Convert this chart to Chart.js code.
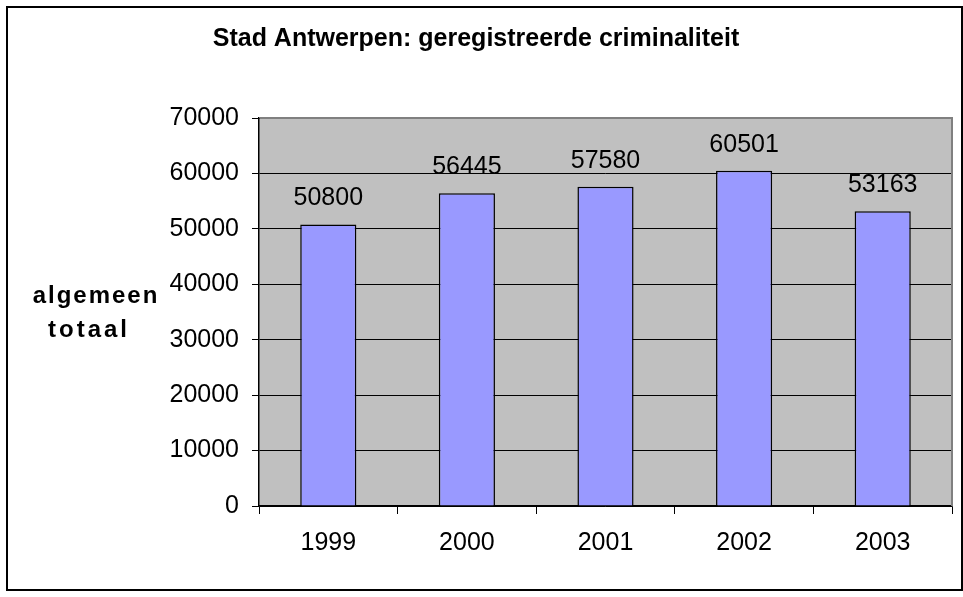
<!DOCTYPE html>
<html>
<head>
<meta charset="utf-8">
<script src="https://cdn.jsdelivr.net/npm/chart.js@4.4.1/dist/chart.umd.min.js"></script>
<style>
  html, body { margin: 0; padding: 0; background: #ffffff; }
  #wrap { position: absolute; left: 0; top: 0; width: 963px; height: 597px; }
</style>
</head>
<body>
<div id="wrap"><canvas id="c" width="963" height="597"></canvas></div>
<script>
const years = ['1999', '2000', '2001', '2002', '2003'];
const totals = [50800, 56445, 57580, 60501, 53163];
const yTicks = [0, 10000, 20000, 30000, 40000, 50000, 60000, 70000];
const titleText = 'Stad Antwerpen: geregistreerde criminaliteit';
const yTitleLines = ['algemeen', 'totaal'];

const FONT = '"Liberation Sans", Arial, sans-serif';

const framePlugin = {
  id: 'frame',
  beforeDraw(chart) {
    const { ctx, chartArea: a } = chart;
    ctx.save();
    ctx.fillStyle = '#ffffff';
    ctx.fillRect(0, 0, chart.width, chart.height);
    ctx.fillStyle = '#C0C0C0';
    ctx.fillRect(a.left, a.top, a.right - a.left, a.bottom - a.top);
    ctx.strokeStyle = '#000000';
    ctx.lineWidth = 2;
    ctx.strokeRect(7, 7, 955, 583);
    ctx.restore();
  },
  afterDraw(chart) {
    const { ctx, chartArea: a } = chart;
    ctx.save();
    ctx.strokeStyle = '#808080';
    ctx.lineWidth = 2;
    ctx.beginPath();
    ctx.moveTo(a.left + 1, a.top);
    ctx.lineTo(a.right, a.top);
    ctx.lineTo(a.right, a.bottom);
    ctx.stroke();
    // y axis title (horizontal, two lines)
    ctx.fillStyle = '#000000';
    ctx.font = 'bold 24px ' + FONT;
    ctx.textAlign = 'center';
    ctx.textBaseline = 'alphabetic';
    try { ctx.letterSpacing = '2px'; } catch (e) {}
    ctx.fillText(yTitleLines[0], a.left - 163, a.top + 185);
    try { ctx.letterSpacing = '3px'; } catch (e) {}
    ctx.fillText(yTitleLines[1], a.left - 170, a.top + 219);
    try { ctx.letterSpacing = '0px'; } catch (e) {}
    // value labels above bars
    ctx.font = '25px ' + FONT;
    const meta = chart.getDatasetMeta(0);
    meta.data.forEach((bar, i) => {
      ctx.fillText(String(chart.data.datasets[0].data[i]), bar.x, bar.y - 19);
    });
    ctx.restore();
  }
};

new Chart(document.getElementById('c'), {
  type: 'bar',
  data: {
    labels: years,
    datasets: [{
      data: totals,
      backgroundColor: '#9999FF',
      borderColor: '#000000',
      borderWidth: 1.5,
      barPercentage: 0.405,
      categoryPercentage: 1.0
    }]
  },
  options: {
    responsive: false,
    animation: false,
    devicePixelRatio: 1,
    layout: { padding: { left: 0, right: 11, top: 0, bottom: 0 } },
    plugins: {
      legend: { display: false },
      tooltip: { enabled: false },
      title: {
        display: true,
        text: titleText,
        color: '#000000',
        font: { family: FONT, size: 25, weight: 'bold' },
        padding: { top: 24, bottom: 64 }
      }
    },
    scales: {
      x: {
        grid: {
          offset: true,
          drawOnChartArea: false,
          drawTicks: true,
          tickLength: 8,
          color: '#000000',
          lineWidth: 1
        },
        border: { display: true, color: '#000000', width: 1.5 },
        ticks: {
          color: '#000000',
          font: { family: FONT, size: 25 },
          padding: 14,
          maxRotation: 0
        },
        afterFit(scale) { scale.height = 91; }
      },
      y: {
        min: 0,
        max: 70000,
        afterBuildTicks(scale) { scale.ticks = yTicks.map(v => ({ value: v })); },
        grid: {
          color: '#000000',
          lineWidth: 1,
          drawTicks: true,
          tickLength: 7
        },
        border: { display: true, color: '#000000', width: 1.5 },
        ticks: {
          color: '#000000',
          font: { family: FONT, size: 25 },
          padding: 13,
          callback: v => String(v)
        },
        afterFit(scale) { scale.width = 259; }
      }
    }
  },
  plugins: [framePlugin]
});
</script>
</body>
</html>
